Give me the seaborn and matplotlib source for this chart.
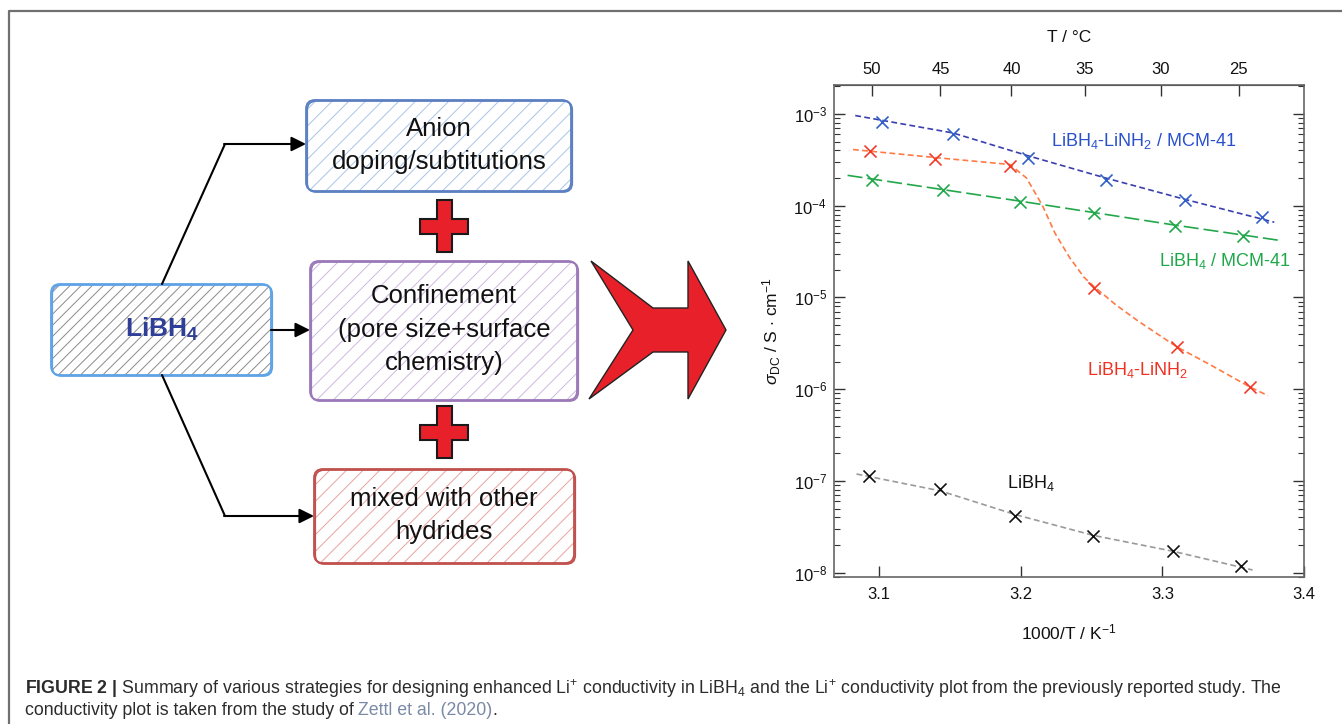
import numpy as np
import pandas as pd
import matplotlib
matplotlib.use("Agg")
import matplotlib.pyplot as plt
import seaborn as sns
from matplotlib.patches import FancyBboxPatch, Polygon

sns.set_style("ticks")
plt.rcParams['font.family'] = ['Liberation Sans', 'DejaVu Sans']
plt.rcParams['mathtext.fontset'] = 'custom'
plt.rcParams['mathtext.rm'] = 'Liberation Sans'
plt.rcParams['mathtext.it'] = 'Liberation Sans:italic'
plt.rcParams['mathtext.bf'] = 'Liberation Sans:bold'
plt.rcParams['mathtext.sf'] = 'Liberation Sans'
plt.rcParams['hatch.linewidth'] = 0.7

# ---------------- data ----------------
series_names = ["LiBH$_4$-LiNH$_2$ / MCM-41", "LiBH$_4$-LiNH$_2$",
                "LiBH$_4$ / MCM-41", "LiBH$_4$"]

x_blue = [3.1016, 3.152, 3.2047, 3.260, 3.316, 3.370]
y_blue = [8.2e-4, 6.0e-4, 3.3e-4, 1.92e-4, 1.16e-4, 7.6e-5]
x_red = [3.0933, 3.139, 3.192, 3.252, 3.310, 3.362]
y_red = [3.93e-4, 3.26e-4, 2.72e-4, 1.28e-5, 2.9e-6, 1.05e-6]
x_green = [3.0948, 3.1448, 3.1994, 3.2517, 3.3088, 3.3568]
y_green = [1.92e-4, 1.49e-4, 1.11e-4, 8.3e-5, 6.07e-5, 4.69e-5]
x_black = [3.0928, 3.143, 3.196, 3.2512, 3.3075, 3.3553]
y_black = [1.14e-7, 8.2e-8, 4.2e-8, 2.5e-8, 1.73e-8, 1.18e-8]

# fitted guide curves
fx_blue = [3.083, 3.152, 3.205, 3.260, 3.316, 3.379]
fy_blue = [9.6e-4, 6.2e-4, 3.5e-4, 2.0e-4, 1.17e-4, 6.6e-5]
fx_red = [3.0814, 3.139, 3.1923, 3.204, 3.2153, 3.2242, 3.2343, 3.2444,
          3.252, 3.2671, 3.2823, 3.310, 3.3328, 3.3621, 3.3745]
fy_red = [4.09e-4, 3.35e-4, 2.81e-4, 2.0e-4, 9.98e-5, 4.98e-5, 2.74e-5,
          1.67e-5, 1.30e-5, 8.3e-6, 5.6e-6, 2.9e-6, 1.88e-6, 1.05e-6, 8.5e-7]
fx_green = [3.0776, 3.1994, 3.3088, 3.3834]
fy_green = [2.14e-4, 1.12e-4, 6.14e-5, 4.17e-5]
fx_black = [3.0839, 3.143, 3.196, 3.2512, 3.3076, 3.3637]
fy_black = [1.19e-7, 7.8e-8, 4.3e-8, 2.55e-8, 1.71e-8, 1.07e-8]

top_ticks_C = [50, 45, 40, 35, 30, 25]
bottom_ticks = [3.1, 3.2, 3.3, 3.4]

# ---------------- figure ----------------
W, H = 1342, 724
fig = plt.figure(figsize=(W / 100, H / 100), dpi=100)

# diagram layer in pixel coordinates
dax = fig.add_axes([0, 0, 1, 1], zorder=0)
dax.set_xlim(0, W)
dax.set_ylim(H, 0)
dax.axis('off')

# frame
dax.plot([9, 9, W], [H, 11, 11], color='#707070', lw=1.6, solid_capstyle='butt')


def sketch_box(x0, y0, x1, y1, edge, hatchc, hatch):
    fill = FancyBboxPatch((x0, y0), x1 - x0, y1 - y0,
                          boxstyle="round,pad=0,rounding_size=9",
                          facecolor='white', edgecolor=hatchc, lw=0,
                          hatch=hatch, zorder=1)
    dax.add_patch(fill)
    for dx, dy in [(0, 0), (1.2, 1.0)]:
        b = FancyBboxPatch((x0 + dx, y0 + dy), x1 - x0, y1 - y0,
                           boxstyle="round,pad=0,rounding_size=9",
                           facecolor='none', edgecolor=edge, lw=1.3, zorder=2)
        dax.add_patch(b)


sketch_box(51, 284, 271, 375, '#5ea3e6', '#8a8a8a', '///')
sketch_box(306, 100, 571, 191, '#5b7fc2', '#a9c4e8', '//')
sketch_box(310, 261, 577, 400, '#9b78b8', '#cdb8e0', '//')
sketch_box(314, 469, 574, 563, '#c0504d', '#e8a2a2', '//')

txt_kw = dict(ha='center', va='center', fontsize=18.5, color='#111111', zorder=5)
dax.text(439, 129, "Anion", **txt_kw)
dax.text(439, 162, "doping/subtitutions", **txt_kw)
dax.text(444, 296, "Confinement", **txt_kw)
dax.text(444, 330, "(pore size+surface", **txt_kw)
dax.text(444, 363, "chemistry)", **txt_kw)
dax.text(444, 499, "mixed with other", **txt_kw)
dax.text(444, 532, "hydrides", **txt_kw)
dax.text(162, 329, r"$\mathbf{LiBH_4}$", ha='center', va='center', fontsize=19,
         color='#2f3f98', zorder=5)

# connectors
dax.plot([162, 225], [284, 144], color='k', lw=1.5, zorder=3)
dax.plot([162, 225], [375, 516], color='k', lw=1.5, zorder=3)
arrow_kw = dict(arrowstyle='-|>', lw=1.5, color='k', mutation_scale=22,
                shrinkA=0, shrinkB=0)
dax.annotate('', xy=(306, 144), xytext=(224, 144), arrowprops=arrow_kw, zorder=3)
dax.annotate('', xy=(314, 516), xytext=(224, 516), arrowprops=arrow_kw, zorder=3)
dax.annotate('', xy=(310, 330), xytext=(271, 330), arrowprops=arrow_kw, zorder=3)


def plus(cx, cy):
    hw, hh, t = 24, 26, 7.5
    pts = [(cx - t, cy - hh), (cx + t, cy - hh), (cx + t, cy - t), (cx + hw, cy - t),
           (cx + hw, cy + t), (cx + t, cy + t), (cx + t, cy + hh), (cx - t, cy + hh),
           (cx - t, cy + t), (cx - hw, cy + t), (cx - hw, cy - t), (cx - t, cy - t)]
    dax.add_patch(Polygon(pts, closed=True, facecolor='#e8202a', edgecolor='#1a1a1a',
                          lw=1.5, zorder=4))


plus(444, 226)
plus(444, 432)

chev = [(591, 261), (653, 308), (688, 308), (688, 261), (726, 330), (688, 399),
        (688, 352), (653, 352), (589, 399), (633, 330)]
dax.add_patch(Polygon(chev, closed=True, facecolor='#e8202a', edgecolor='#222222',
                      lw=1.0, zorder=4))

# ---------------- conductivity plot ----------------
L, R, T, B = 834, 1304, 85, 577
ax = fig.add_axes([L / W, 1 - B / H, (R - L) / W, (B - T) / H], zorder=2)
ax.set_facecolor('white')

styles = [
    (series_names[0], x_blue, y_blue, fx_blue, fy_blue, '#3a3fb0', '#3060c8', (0, (3.5, 2))),
    (series_names[1], x_red, y_red, fx_red, fy_red, '#ff7a45', '#f03a2a', (0, (3.5, 2))),
    (series_names[2], x_green, y_green, fx_green, fy_green, '#22a84a', '#22a84a', (0, (9, 3))),
    (series_names[3], x_black, y_black, fx_black, fy_black, '#9a9a9a', '#111111', (0, (3.5, 2))),
]
for name, xs, ys, fxs, fys, lc, mc, ls in styles:
    fit_df = pd.DataFrame({'x': fxs, 'y': fys})
    pts_df = pd.DataFrame({'x': xs, 'y': ys})
    sns.lineplot(data=fit_df, x='x', y='y', ax=ax, color=lc, lw=1.2,
                 linestyle=ls, sort=False, estimator=None)
    sns.scatterplot(data=pts_df, x='x', y='y', ax=ax, marker='x', s=75,
                    color=mc, linewidth=1.2, zorder=3)

ax.set_yscale('log')
ax.set_xlim(3.068, 3.4)
ax.set_ylim(10 ** -8.047, 10 ** -2.685)
ax.set_xticks(bottom_ticks)
ax.set_xticklabels(["3.1", "3.2", "3.3", "3.4"])
ax.tick_params(axis='both', which='both', direction='in', colors='#333333',
               labelsize=12, labelcolor='#111111')
ax.tick_params(axis='y', which='both', right=True, left=True)
ax.tick_params(axis='y', which='major', length=8, width=1, pad=5)
ax.tick_params(axis='y', which='minor', length=4, width=0.8)
ax.tick_params(axis='x', which='major', length=8, width=1, pad=7, top=False)
ax.tick_params(axis='x', which='minor', bottom=False, top=False)
for s in ax.spines.values():
    s.set_color('#666666')
    s.set_linewidth(1.2)
    s.set_visible(True)

ax.set_xlabel(r"1000/T / K$^{-1}$", fontsize=12.5, color='#111111')
ax.xaxis.set_label_coords(0.5, -(622 - B) / (B - T))
ax.set_ylabel(r"$\sigma_{\mathrm{DC}}$ / S $\cdot$ cm$^{-1}$", fontsize=12.5, color='#111111')
ax.yaxis.set_label_coords(-(L - 783) / (R - L), 0.5)


def inv2c(x):
    x = np.asarray(x, dtype=float)
    with np.errstate(divide='ignore', invalid='ignore'):
        return 1000.0 / x - 273.15


def c2inv(c):
    c = np.asarray(c, dtype=float)
    with np.errstate(divide='ignore', invalid='ignore'):
        return 1000.0 / (c + 273.15)


sec = ax.secondary_xaxis('top', functions=(inv2c, c2inv))
sec.set_xticks(top_ticks_C)
sec.set_xticklabels([str(v) for v in top_ticks_C])
sec.tick_params(direction='in', length=8, width=1, pad=6, labelsize=12,
                colors='#333333', labelcolor='#111111')
sec.set_xlabel("T / °C", fontsize=12.5, color='#111111', labelpad=14)

lab_kw = dict(fontsize=13, ha='left', va='center')
ax.text(3.221, 10 ** -3.29, series_names[0], color='#2a50cc', **lab_kw)
ax.text(3.2974, 10 ** -4.605, series_names[2], color='#1fa84a', **lab_kw)
ax.text(3.2464, 10 ** -5.79, series_names[1], color='#f03020', **lab_kw)
ax.text(3.190, 10 ** -7.02, series_names[3], color='#111111', **lab_kw)

# ---------------- caption ----------------
cap_fs = 12.8
cap_kw = dict(fontsize=cap_fs, color='#2b2b2b', va='baseline', ha='left')
fig.text(25 / W, 1 - 694 / H,
         r"$\mathbf{FIGURE\ 2\ |}$ Summary of various strategies for designing enhanced "
         r"Li$^{+}$ conductivity in LiBH$_4$ and the Li$^{+}$ conductivity plot from the "
         r"previously reported study. The", **cap_kw)
t2 = fig.text(25 / W, 1 - 715 / H, "conductivity plot is taken from the study of", **cap_kw)
fig.canvas.draw()
rend = fig.canvas.get_renderer()
bb = t2.get_window_extent(rend)
t3 = fig.text((bb.x1 + 4) / W, 1 - 715 / H, "Zettl et al. (2020)",
              fontsize=cap_fs, color='#7a8aa6', va='baseline', ha='left')
bb3 = t3.get_window_extent(rend)
fig.text((bb3.x1 + 0.5) / W, 1 - 715 / H, ".", **cap_kw)

fig.savefig("out.png", dpi=100)
